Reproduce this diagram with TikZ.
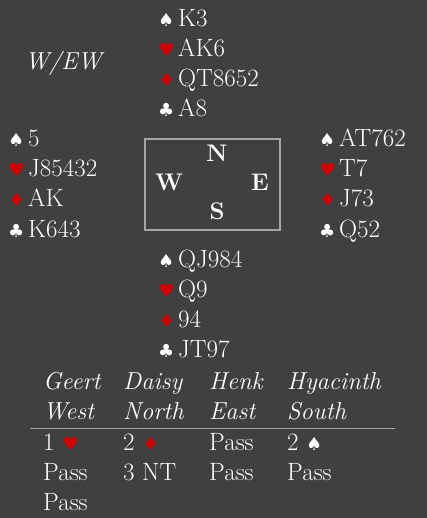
\documentclass[tikz,border=0pt]{standalone}
\usepackage{fontspec}
\newfontfamily\suitfont{DejaVu Sans}
\definecolor{bg}{RGB}{64,64,64}
\definecolor{suitred}{RGB}{210,0,0}
\definecolor{linegray}{RGB}{165,165,165}
% suit symbols
\newcommand\suitS{{\suitfont\fontsize{18}{18}\selectfont\color{white}♠}}
\newcommand\suitH{{\suitfont\fontsize{18}{18}\selectfont\color{suitred}♥}}
\newcommand\suitD{{\suitfont\fontsize{18}{18}\selectfont\color{suitred}♦}}
\newcommand\suitC{{\suitfont\fontsize{18}{18}\selectfont\color{white}♣}}
\newcommand\holding[2]{\makebox[20pt][l]{#1}#2}
\begin{document}
\begin{tikzpicture}[x=1pt,y=-1pt]
	\tikzset{txt/.style={anchor=base west, inner sep=0pt, text=white, font=\fontsize{25}{30}\selectfont},
		seat/.style={anchor=base, inner sep=0pt, text=white, font=\fontsize{24}{30}\selectfont\bfseries},
		player/.style={txt, font=\fontsize{24.5}{30}\selectfont\itshape}}
	\fill[bg] (0,0) rectangle (427,518);
	\node[player] (vul) at (25,70) {W/EW};
	%North
	\node[txt] (n1) at (158,27)  {\holding{\suitS}{K3}};
	\node[txt] (n2) at (158,57)  {\holding{\suitH}{AK6}};
	\node[txt] (n3) at (158,87)  {\holding{\suitD}{QT8652}};
	\node[txt] (n4) at (158,117) {\holding{\suitC}{A8}};
	%West
	\node[txt] (w1) at (8,147) {\holding{\suitS}{5}};
	\node[txt] (w2) at (8,177) {\holding{\suitH}{J85432}};
	\node[txt] (w3) at (8,207) {\holding{\suitD}{AK}};
	\node[txt] (w4) at (8,237) {\holding{\suitC}{K643}};
	%East
	\node[txt] (e1) at (319,147) {\holding{\suitS}{AT762}};
	\node[txt] (e2) at (319,177) {\holding{\suitH}{T7}};
	\node[txt] (e3) at (319,207) {\holding{\suitD}{J73}};
	\node[txt] (e4) at (319,237) {\holding{\suitC}{Q52}};
	%South
	\node[txt] (s1) at (158,267) {\holding{\suitS}{QJ984}};
	\node[txt] (s2) at (158,297) {\holding{\suitH}{Q9}};
	\node[txt] (s3) at (158,327) {\holding{\suitD}{94}};
	\node[txt] (s4) at (158,357) {\holding{\suitC}{JT97}};
	%Tisch
	\node[draw=linegray, line width=1.2pt, minimum width=135pt, minimum height=91pt, inner sep=0pt] (table) at (212.5,184.5) {};
	\node[seat] (seatN) at (217,162) {N};
	\node[seat] (seatW) at (169,191) {W};
	\node[seat] (seatE) at (260,191) {E};
	\node[seat] (seatS) at (217,220) {S};
	%Bietung
	\node[player] (geert) at (43,389)  {Geert};
	\node[player] (daisy) at (123,389) {Daisy};
	\node[player] (henk)  at (209,389) {Henk};
	\node[player] (hya)   at (287,389) {Hyacinth};
	\node[player] (west)  at (43,419)  {West};
	\node[player] (north) at (123,419) {North};
	\node[player] (east)  at (209,419) {East};
	\node[player] (south) at (287,419) {South};
	\coordinate (ruleL) at (30,428);
	\coordinate (ruleR) at (395,428);
	\draw[linegray, line width=1pt] (ruleL) -- (ruleR);
	\node[txt] (b11) at (43,450)  {1 \suitH};
	\node[txt] (b12) at (123,450) {2 \suitD};
	\node[txt] (b13) at (209,450) {Pass};
	\node[txt] (b14) at (287,450) {2 \suitS};
	\node[txt] (b21) at (43,480)  {Pass};
	\node[txt] (b22) at (123,480) {3 NT};
	\node[txt] (b23) at (209,480) {Pass};
	\node[txt] (b24) at (287,480) {Pass};
	\node[txt] (b31) at (43,510)  {Pass};
\end{tikzpicture}
\end{document}
